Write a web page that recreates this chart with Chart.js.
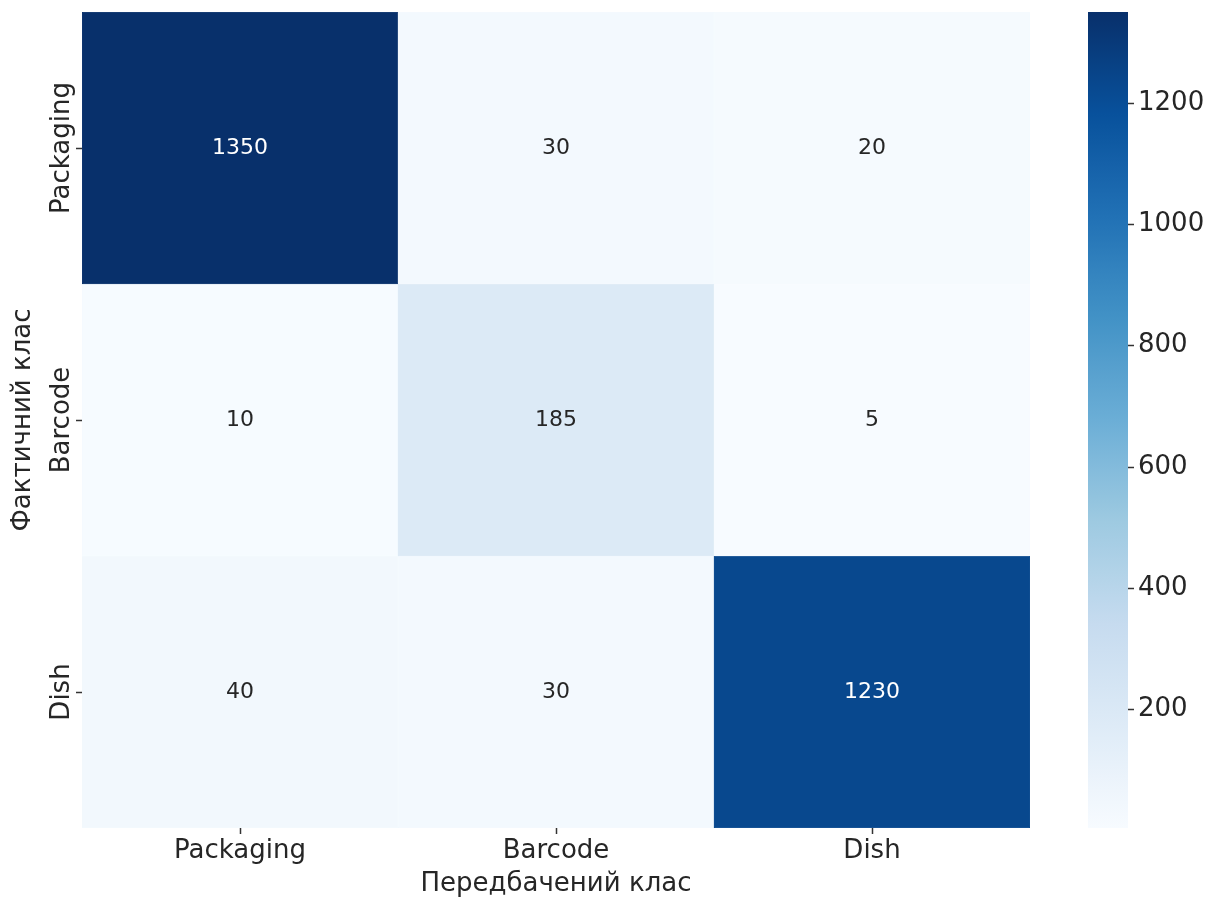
<!DOCTYPE html>
<html>
<head>
<meta charset="utf-8">
<title>Confusion matrix</title>
<script src="https://cdn.jsdelivr.net/npm/chart.js@4.4.1/dist/chart.umd.min.js"></script>
<style>
    html, body { margin: 0; padding: 0; background: #ffffff; }
    #wrap { position: relative; width: 1220px; height: 900px; }
    #matrix { position: absolute; left: 0; top: 0; }
    #colorbar { position: absolute; left: 1060px; top: 0; }
</style>
</head>
<body>
<div id="wrap">
    <canvas id="matrix" width="1060" height="900"></canvas>
    <canvas id="colorbar" width="160" height="900"></canvas>
</div>
<script>
// ============================================================================
// CONFUSION MATRIX (Packaging / Barcode / Dish)
// ============================================================================

const classLabels = ['Packaging', 'Barcode', 'Dish'];

// one array per actual class (row), values per predicted class (column)
const rowPackaging = [1350, 30, 20];
const rowBarcode = [10, 185, 5];
const rowDish = [40, 30, 1230];

const colorbarTicks = [200, 400, 600, 800, 1000, 1200];
const colorMin = 5;
const colorMax = 1350;

const xTitle = 'Передбачений клас';
const yTitle = 'Фактичний клас';

const FONT = 'DejaVu Sans';
const TEXT_COLOR = '#262626';

// matplotlib "Blues"
const BLUES = ['#f7fbff', '#deebf7', '#c6dbef', '#9ecae1', '#6baed6', '#4292c6', '#2171b5', '#08519c', '#08306b'];

function hexToRgb(h) {
    return [parseInt(h.slice(1, 3), 16), parseInt(h.slice(3, 5), 16), parseInt(h.slice(5, 7), 16)];
}

function blues(t) {
    t = Math.max(0, Math.min(1, t));
    const pos = t * (BLUES.length - 1);
    const i = Math.min(Math.floor(pos), BLUES.length - 2);
    const f = pos - i;
    const a = hexToRgb(BLUES[i]);
    const b = hexToRgb(BLUES[i + 1]);
    const c = a.map((v, k) => Math.round(v + (b[k] - v) * f));
    return `rgb(${c[0]}, ${c[1]}, ${c[2]})`;
}

function norm(v) {
    return (v - colorMin) / (colorMax - colorMin);
}

const rows = [rowPackaging, rowBarcode, rowDish];

// each row is a dataset of floating bars spanning [r, r + 1] on a reversed linear y axis
const datasets = rows.map((row, r) => ({
    label: classLabels[r],
    data: row.map(() => [r, r + 1]),
    values: row,
    backgroundColor: row.map(v => blues(norm(v))),
    borderColor: row.map(v => blues(norm(v))),
    borderWidth: 0.5,
    borderSkipped: false,
    grouped: false,
    barPercentage: 1,
    categoryPercentage: 1
}));

const cellTextPlugin = {
    id: 'cellText',
    afterDatasetsDraw(chart) {
        const ctx = chart.ctx;
        ctx.save();
        ctx.font = `22px "${FONT}"`;
        ctx.textAlign = 'center';
        ctx.textBaseline = 'middle';
        chart.data.datasets.forEach((ds, r) => {
            const meta = chart.getDatasetMeta(r);
            meta.data.forEach((bar, c) => {
                const v = ds.values[c];
                ctx.fillStyle = norm(v) > 0.6 ? '#ffffff' : TEXT_COLOR;
                ctx.fillText(String(v), bar.x, (bar.y + bar.base) / 2);
            });
        });
        ctx.restore();
    }
};

// vertical row labels on the left axis
const rowLabelPlugin = {
    id: 'rowLabels',
    afterDraw(chart) {
        const ctx = chart.ctx;
        const yScale = chart.scales.y;
        ctx.save();
        ctx.font = `26px "${FONT}"`;
        ctx.fillStyle = TEXT_COLOR;
        ctx.textAlign = 'center';
        ctx.textBaseline = 'middle';
        classLabels.forEach((label, r) => {
            const y = yScale.getPixelForValue(r + 0.5);
            ctx.save();
            ctx.translate(62, y);
            ctx.rotate(-Math.PI / 2);
            ctx.fillText(label, 0, 0);
            ctx.restore();
        });
        ctx.restore();
    }
};

new Chart(document.getElementById('matrix').getContext('2d'), {
    type: 'bar',
    data: { labels: classLabels, datasets: datasets },
    options: {
        responsive: false,
        animation: false,
        layout: { padding: { top: 12, right: 30, left: 0, bottom: 0 } },
        plugins: {
            legend: { display: false },
            tooltip: { enabled: false }
        },
        scales: {
            x: {
                type: 'category',
                offset: true,
                border: { display: false },
                grid: {
                    offset: false,
                    drawOnChartArea: false,
                    tickLength: 6,
                    tickWidth: 1.5,
                    tickColor: '#333333'
                },
                ticks: {
                    color: TEXT_COLOR,
                    padding: 2,
                    font: { family: FONT, size: 26 }
                },
                title: {
                    display: true,
                    text: xTitle,
                    color: TEXT_COLOR,
                    font: { family: FONT, size: 26 },
                    padding: { top: 0, bottom: 0 }
                },
                afterFit(scale) { scale.height = 72; }
            },
            y: {
                type: 'linear',
                min: 0,
                max: 3,
                reverse: true,
                border: { display: false },
                grid: {
                    drawOnChartArea: false,
                    tickLength: 6,
                    tickWidth: 1.5,
                    tickColor: '#333333'
                },
                ticks: { display: false },
                afterBuildTicks(scale) {
                    scale.ticks = classLabels.map((_, i) => ({ value: i + 0.5 }));
                },
                title: {
                    display: true,
                    text: yTitle,
                    color: TEXT_COLOR,
                    font: { family: FONT, size: 26 },
                    padding: { top: 8, bottom: 0 }
                },
                afterFit(scale) { scale.width = 82; }
            }
        }
    },
    plugins: [cellTextPlugin, rowLabelPlugin]
});

// ----------------------------------------------------------------------------
// colour bar
// ----------------------------------------------------------------------------
function colorbarGradient(context) {
    const chart = context.chart;
    const area = chart.chartArea;
    if (!area) return BLUES[4];
    const yScale = chart.scales.y;
    const g = chart.ctx.createLinearGradient(0, yScale.getPixelForValue(colorMin), 0, yScale.getPixelForValue(colorMax));
    const steps = 32;
    for (let i = 0; i <= steps; i++) {
        g.addColorStop(i / steps, blues(i / steps));
    }
    return g;
}

new Chart(document.getElementById('colorbar').getContext('2d'), {
    type: 'bar',
    data: {
        labels: [''],
        datasets: [{
            data: [[colorMin, colorMax]],
            backgroundColor: colorbarGradient,
            borderWidth: 0,
            barPercentage: 1,
            categoryPercentage: 1
        }]
    },
    options: {
        responsive: false,
        animation: false,
        layout: { padding: { top: 12, left: 28, right: 0, bottom: 72 } },
        plugins: {
            legend: { display: false },
            tooltip: { enabled: false }
        },
        scales: {
            x: { display: false },
            y: {
                position: 'right',
                min: colorMin,
                max: colorMax,
                border: { display: false },
                grid: {
                    drawOnChartArea: false,
                    tickLength: 6,
                    tickWidth: 1.5,
                    tickColor: '#333333'
                },
                afterBuildTicks(scale) {
                    scale.ticks = colorbarTicks.map(v => ({ value: v }));
                },
                ticks: {
                    color: TEXT_COLOR,
                    padding: 4,
                    font: { family: FONT, size: 26 },
                    callback: value => String(value)
                },
                afterFit(scale) {
                    scale.width = 92;
                    scale.paddingTop = 0;
                    scale.paddingBottom = 0;
                }
            }
        }
    }
});
</script>
</body>
</html>
